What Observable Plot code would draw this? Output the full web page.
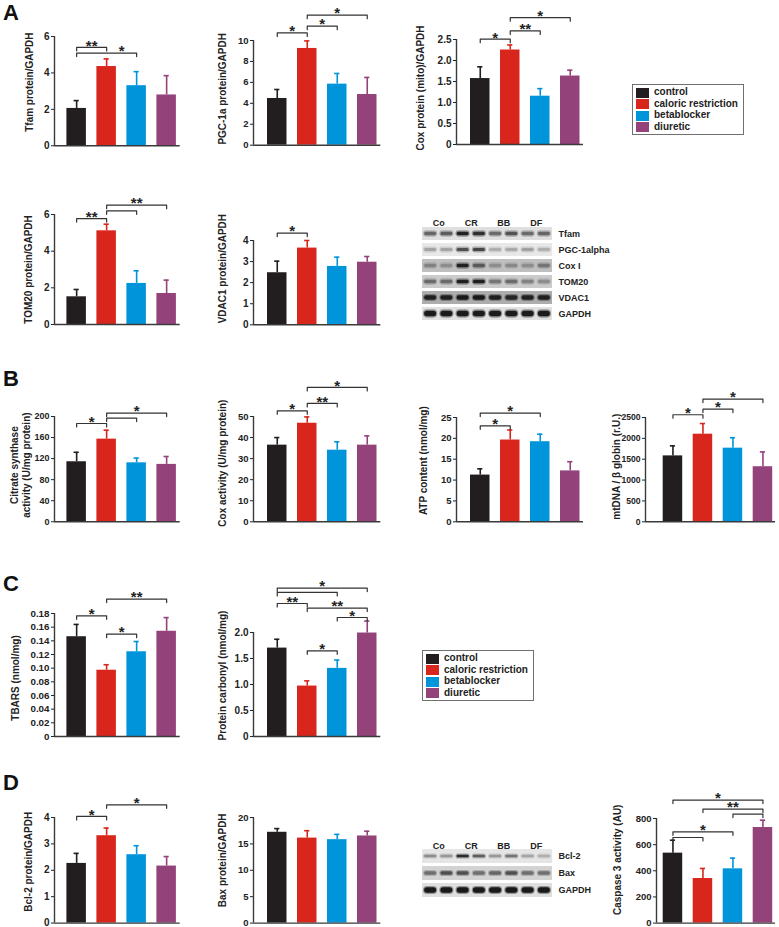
<!DOCTYPE html>
<html><head><meta charset="utf-8">
<script src="https://cdn.jsdelivr.net/npm/d3@7"></script>
<script src="https://cdn.jsdelivr.net/npm/@observablehq/plot@0.6"></script>
<style>
body{margin:0;background:#fff;}
#fig{position:relative;width:779px;height:927px;overflow:hidden;background:#fff;font-family:"Liberation Sans",Arial,Helvetica,sans-serif;}
.letter{position:absolute;font-weight:bold;font-size:22px;line-height:22px;color:#111;}
.legend{position:absolute;border:1px solid #707070;box-sizing:border-box;}
.legend .sw{position:absolute;left:3px;width:13px;height:10px;}
.legend .lt{position:absolute;left:21px;font-size:10px;font-weight:bold;line-height:10px;color:#222;white-space:nowrap;}
</style>
</head><body><div id="fig"></div>
<script>
// ---------------- data ----------------
const groups = ["control", "caloric restriction", "betablocker", "diuretic"];
const groupColors = ["#221e1f", "#d9261c", "#0095da", "#93427a"];

// each significance entry: [from group, to group, bracket level (data units), label, optional label position (group units)]
const tfamMean = [2.05, 4.35, 3.3, 2.79],   tfamSem = [0.43, 0.42, 0.77, 1.06];
const tfamSig = [[0, 1, 5.40, "**"], [0, 2, 5.09, "*", 1.5]];
const pgcMean = [4.46, 9.24, 5.83, 4.84],   pgcSem = [0.86, 0.72, 1.02, 1.63];
const pgcSig = [[0, 1, 10.72, "*"], [1, 2, 11.37, "*"], [1, 3, 12.42, "*"]];
const coxMitoMean = [1.57, 2.25, 1.15, 1.63], coxMitoSem = [0.28, 0.12, 0.18, 0.14];
const coxMitoSig = [[0, 1, 2.507, "*"], [1, 2, 2.705, "**"], [1, 3, 3.02, "*"]];
const tom20Mean = [1.51, 5.11, 2.24, 1.69], tom20Sem = [0.4, 0.36, 0.69, 0.73];
const tom20Sig = [[0, 1, 5.78, "**"], [1, 2, 6.20, ""], [1, 3, 6.51, "**"]];
const vdac1Mean = [2.47, 3.64, 2.77, 2.97], vdac1Sem = [0.55, 0.36, 0.44, 0.27];
const vdac1Sig = [[0, 1, 4.35, "*"]];
const csMean = [114, 157, 112, 109], csSem = [18, 17, 9, 15];
const csSig = [[0, 1, 186.7, "*"], [1, 2, 197, ""], [1, 3, 206.5, "*"]];
const coxActMean = [36.4, 46.8, 34, 36.4], coxActSem = [3.6, 3.0, 4.0, 4.4];
const coxActSig = [[0, 1, 52.7, "*"], [1, 2, 56.2, "**"], [1, 3, 63.8, "*"]];
const atpMean = [11.2, 19.6, 19.2, 12.2], atpSem = [1.5, 2.4, 1.8, 2.2];
const atpSig = [[0, 1, 23.0, "*"], [0, 2, 26.06, "*"]];
const mtdnaMean = [1580, 2100, 1765, 1320], mtdnaSem = [240, 255, 250, 355];
const mtdnaSig = [[0, 1, 2566, "*"], [1, 2, 2702, "*"], [1, 3, 2942, "*"]];
const tbarsMean = [0.146, 0.097, 0.124, 0.154], tbarsSem = [0.018, 0.008, 0.015, 0.020];
const tbarsSig = [[0, 1, 0.1766, "*"], [1, 2, 0.1498, "*"], [1, 3, 0.2011, "**"]];
const carbMean = [1.70, 0.97, 1.31, 1.99], carbSem = [0.17, 0.10, 0.16, 0.23];
const carbSig = [[0, 3, 2.854, "*"], [0, 2, 2.77, ""], [0, 1, 2.558, "**"], [1, 3, 2.469, "**"], [2, 3, 2.288, "*"], [1, 2, 1.648, "*"]];
const bcl2Mean = [2.26, 3.31, 2.59, 2.16], bcl2Sem = [0.38, 0.29, 0.34, 0.36];
const bcl2Sig = [[0, 1, 4.04, "*"], [1, 3, 4.48, "*"]];
const baxMean = [17.2, 16.1, 15.8, 16.5], baxSem = [0.7, 1.4, 1.0, 0.9];
const baxSig = [];
const casp3Mean = [535, 341, 415, 731], casp3Sem = [99, 77, 82, 56];
const casp3Sig = [[0, 3, 940.7, "*"], [1, 3, 871.9, "**"], [2, 3, 833.7, ""], [0, 2, 698.3, "*"], [0, 1, 654.7, ""]];

// tick values
const tfamTicks = [0, 2, 4, 6];
const pgcTicks = [0, 2, 4, 6, 8, 10];
const coxMitoTicks = [0, 0.5, 1, 1.5, 2, 2.5];
const tom20Ticks = [0, 2, 4, 6];
const vdac1Ticks = [0, 1, 2, 3, 4];
const csTicks = [0, 40, 80, 120, 160, 200];
const coxActTicks = [0, 10, 20, 30, 40, 50];
const atpTicks = [0, 5, 10, 15, 20, 25];
const mtdnaTicks = [0, 500, 1000, 1500, 2000, 2500];
const tbarsTicks = [0, 0.02, 0.04, 0.06, 0.08, 0.10, 0.12, 0.14, 0.16, 0.18];
const carbTicks = [0, 0.5, 1, 1.5, 2];
const bcl2Ticks = [0, 1, 2, 3, 4];
const baxTicks = [0, 5, 10, 15, 20];
const casp3Ticks = [0, 200, 400, 600, 800];

// western blots
const laneGroups = ["Co", "CR", "BB", "DF"];
const blotARows = ["Tfam", "PGC-1alpha", "Cox I", "TOM20", "VDAC1", "GAPDH"];
const blotABackground = [0.09, 0.05, 0.23, 0.175, 0.31, 0.08];
const blotABands = [
  [0.62, 0.66, 0.92, 0.86, 0.6, 0.7, 0.6, 0.62],
  [0.35, 0.35, 0.72, 0.76, 0.3, 0.32, 0.36, 0.3],
  [0.5, 0.45, 0.93, 0.68, 0.45, 0.47, 0.45, 0.56],
  [0.6, 0.6, 0.93, 0.93, 0.55, 0.6, 0.5, 0.45],
  [0.93, 0.93, 0.96, 0.96, 0.93, 0.9, 0.93, 0.93],
  [0.95, 0.95, 0.95, 0.95, 0.95, 0.95, 0.95, 0.95]
];
const blotDRows = ["Bcl-2", "Bax", "GAPDH"];
const blotDBackground = [0.06, 0.14, 0.09];
const blotDBands = [
  [0.45, 0.4, 0.88, 0.66, 0.4, 0.56, 0.35, 0.3],
  [0.58, 0.72, 0.72, 0.58, 0.62, 0.72, 0.58, 0.58],
  [0.96, 0.96, 0.96, 0.96, 0.96, 0.96, 0.96, 0.96]
];

// ---------------- drawing ----------------
const FONT = '"Liberation Sans", Arial, Helvetica, sans-serif';
const NARROW = '"Liberation Sans Narrow", "Arial Narrow", "Liberation Sans", Arial, sans-serif';
const fig = document.getElementById("fig");
function place(el, left, top) {
  el.style.position = "absolute";
  el.style.left = left + "px";
  el.style.top = top + "px";
  el.style.maxWidth = "none";
  fig.appendChild(el);
}
function fmtTick(f) { const F = d3.format(f); return d => d === 0 ? "0" : F(d); }

function barChart(c) {
  const STEP = 30, BW = 19.5, ML = 60, MT = 62, MR = 4, MB = 6;
  const c0 = c.bandStart + BW / 2;
  const plotW = c.axisEnd - c.axisX, plotH = c.yBottom - c.yTop;
  const ppu = plotH / c.ymax;
  const tk = 3.5 / ppu;
  const rows = groups.map((g, i) => ({i, g, mean: c.mean[i], hi: c.mean[i] + c.sem[i], color: groupColors[i]}));
  const hw = BW / 2 / STEP, cw = 2.6 / STEP;
  const xLeft = (c.axisX - c0) / STEP;
  const brPts = c.sig.flatMap((b, k) => [[b[0], b[2] - tk], [b[0], b[2]], [b[1], b[2]], [b[1], b[2] - tk]].map(([x, y]) => ({k, x, y})));
  const brLab = c.sig.filter(b => b[3]).map(b => ({x: b[4] ?? (b[0] + b[1]) / 2, y: b[2], t: b[3]}));
  const svg = Plot.plot({
    width: ML + plotW + MR, height: MT + plotH + MB,
    marginLeft: ML, marginRight: MR, marginTop: MT, marginBottom: MB,
    x: {domain: [xLeft, (c.axisEnd - c0) / STEP], axis: null},
    y: {domain: [0, c.ymax], axis: null},
    color: {type: "identity"},
    style: {background: "transparent", color: "#222", fontFamily: FONT, overflow: "visible"},
    marks: [
      Plot.rect(rows, {x1: d => d.i - hw, x2: d => d.i + hw, y1: () => 0, y2: "mean", fill: "color"}),
      Plot.ruleX(rows, {x: "i", y1: "mean", y2: "hi", stroke: "color", strokeWidth: 1.6}),
      Plot.ruleY(rows, {y: "hi", x1: d => d.i - cw, x2: d => d.i + cw, stroke: "color", strokeWidth: 1.6}),
      Plot.ruleY([0], {stroke: "#3a3a3a", strokeWidth: 1.4}),
      Plot.ruleX([xLeft], {y1: 0, y2: c.ymax, stroke: "#3a3a3a", strokeWidth: 1.4}),
      Plot.axisY(c.ticks, {tickSize: 3, tickPadding: 2, tickFormat: fmtTick(c.fmt), fontSize: c.tfs || 10, fontWeight: "bold", label: null}),
      Plot.line(brPts, {x: "x", y: "y", z: "k", stroke: "#333", strokeWidth: 1.2}),
      Plot.text(brLab, {x: "x", y: "y", text: "t", fontSize: 15, fontWeight: "bold", dy: -1.5}),
      Plot.text([c.label], {frameAnchor: "left", textAnchor: "middle", text: d => d, rotate: -90, dx: -c.ldx, dy: c.ldy, fontSize: 10, fontWeight: "bold", lineHeight: 1.15})
    ]
  });
  place(svg, c.axisX - ML, c.yTop - MT);
}

function blot(b) {
  const x0 = b.stripLeft - b.left, x1 = b.stripRight - b.left;
  const y0 = b.rowsTop - b.top, y1 = b.rowsBottom - b.top;
  const n = b.rows.length, pad = 0.2;
  const bwRow = (y1 - y0) / (n - pad) * (1 - pad);
  const gray = d3.interpolateRgb("#f3f3f3", "#101010");
  const marks = [
    Plot.barX(b.rows.map((r, i) => ({r, v: b.bg[i]})), {x1: () => 0, x2: () => 8, y: "r", fill: d => gray(d.v)})
  ];
  b.rows.forEach((r, ri) => {
    const th = b.thick[ri], inset = (bwRow - th) / 2;
    const lanes = b.bands[ri].map((v, lane) => ({lane, v}));
    marks.push(Plot.barX(lanes, {x1: d => d.lane + 0.06, x2: d => d.lane + 0.94, y: () => r, fill: d => gray(d.v * 0.85), fillOpacity: 0.45, insetTop: inset - 1.3, insetBottom: inset - 1.3, rx: th / 2 + 1.3}));
    marks.push(Plot.barX(lanes, {x1: d => d.lane + 0.13, x2: d => d.lane + 0.87, y: () => r, fill: d => gray(d.v), insetTop: inset, insetBottom: inset, rx: th / 2}));
  });
  marks.push(Plot.text(b.rows, {x: () => 8, y: d => d, text: d => d, textAnchor: "start", dx: 6, fontSize: 9, fontWeight: "bold", fontFamily: NARROW, fill: "#222"}));
  marks.push(Plot.text(laneGroups, {x: (d, i) => 2 * i + 1, frameAnchor: "top", text: d => d, fontSize: 9, fontWeight: "bold", fontFamily: NARROW, fill: "#222"}));
  const svg = Plot.plot({
    width: b.width, height: b.height,
    marginLeft: x0, marginRight: b.width - x1, marginTop: b.headerY - b.top, marginBottom: b.height - y1,
    x: {domain: [0, 8], range: [x0, x1], axis: null},
    y: {domain: b.rows, range: [y0, y1], paddingInner: pad, paddingOuter: 0, axis: null},
    color: {type: "identity"},
    style: {background: "transparent", fontFamily: FONT, overflow: "visible"},
    marks
  });
  place(svg, b.left, b.top);
}

function legend(left, top) {
  const box = document.createElement("div");
  box.className = "legend";
  box.style.left = left + "px"; box.style.top = top + "px";
  box.style.width = "112px"; box.style.height = "51px";
  groups.forEach((g, i) => {
    const cy = 7.5 + i * 11.5;
    const sw = document.createElement("div");
    sw.className = "sw"; sw.style.top = (cy - 5) + "px"; sw.style.background = groupColors[i];
    const t = document.createElement("div");
    t.className = "lt"; t.style.top = (cy - 5.5) + "px"; t.textContent = g;
    box.appendChild(sw); box.appendChild(t);
  });
  fig.appendChild(box);
}

function letter(ch, left, top) {
  const d = document.createElement("div");
  d.className = "letter"; d.textContent = ch;
  d.style.left = left + "px"; d.style.top = top + "px";
  fig.appendChild(d);
}

const C1 = {axisX: 54.3, bandStart: 66.7, axisEnd: 180};
const C2 = {axisX: 252.7, bandStart: 266.7, axisEnd: 380};
const C3 = {axisX: 456, bandStart: 470, axisEnd: 583};
const C4 = {axisX: 645, bandStart: 662.7, axisEnd: 775};

// Panel A
barChart({...C1, yTop: 35.7, yBottom: 145, ymax: 6, ticks: tfamTicks, fmt: "d", mean: tfamMean, sem: tfamSem, sig: tfamSig, label: "Tfam protein/GAPDH", ldx: 25, ldy: -9});
barChart({...C2, yTop: 40.3, yBottom: 145, ymax: 10, ticks: pgcTicks, fmt: "d", tfs: 9.5, mean: pgcMean, sem: pgcSem, sig: pgcSig, label: "PGC-1a protein/GAPDH", ldx: 31, ldy: -4});
barChart({...C3, yTop: 39.3, yBottom: 144.3, ymax: 2.5, ticks: coxMitoTicks, fmt: ".1f", mean: coxMitoMean, sem: coxMitoSem, sig: coxMitoSig, label: "Cox protein (mito)/GAPDH", ldx: 36, ldy: -4});
barChart({...C1, yTop: 214.3, yBottom: 324.3, ymax: 6, ticks: tom20Ticks, fmt: "d", mean: tom20Mean, sem: tom20Sem, sig: tom20Sig, label: "TOM20 protein/GAPDH", ldx: 26, ldy: 0});
barChart({...C2, yTop: 240, yBottom: 324.3, ymax: 4, ticks: vdac1Ticks, fmt: "d", mean: vdac1Mean, sem: vdac1Sem, sig: vdac1Sig, label: "VDAC1 protein/GAPDH", ldx: 31, ldy: -14});
legend(632, 84);
blot({left: 415, top: 205, width: 170, height: 120, stripLeft: 422, stripRight: 552, rowsTop: 227, rowsBottom: 320, headerY: 219,
  rows: blotARows, bg: blotABackground, bands: blotABands, thick: [3.5, 3, 3.5, 3.5, 4.2, 5.5]});

// Panel B
barChart({...C1, yTop: 415.7, yBottom: 521, ymax: 200, ticks: csTicks, fmt: "d", tfs: 9, mean: csMean, sem: csSem, sig: csSig, label: "Citrate synthase\nactivity (U/mg protein)", ldx: 34, ldy: -4});
barChart({...C2, yTop: 415.7, yBottom: 521, ymax: 50, ticks: coxActTicks, fmt: "d", tfs: 9.5, mean: coxActMean, sem: coxActSem, sig: coxActSig, label: "Cox activity (U/mg protein)", ldx: 31, ldy: -6});
barChart({...C3, yTop: 416.7, yBottom: 521, ymax: 25, ticks: atpTicks, fmt: "d", tfs: 9.5, mean: atpMean, sem: atpSem, sig: atpSig, label: "ATP content (nmol/mg)", ldx: 33, ldy: -9});
barChart({...C4, yTop: 416.7, yBottom: 521, ymax: 2500, ticks: mtdnaTicks, fmt: "d", tfs: 8.6, mean: mtdnaMean, sem: mtdnaSem, sig: mtdnaSig, label: "mtDNA / \u03b2 globin (r.U.)", ldx: 29, ldy: -3});

// Panel C
barChart({...C1, yTop: 612.7, yBottom: 735.7, ymax: 0.18, ticks: tbarsTicks, fmt: ".2f", tfs: 9.8, mean: tbarsMean, sem: tbarsSem, sig: tbarsSig, label: "TBARS (nmol/mg)", ldx: 39, ldy: 3});
barChart({...C2, yTop: 631.7, yBottom: 735.7, ymax: 2.0, ticks: carbTicks, fmt: ".1f", mean: carbMean, sem: carbSem, sig: carbSig, label: "Protein carbonyl (nmol/mg)", ldx: 31, ldy: -9});
legend(422, 650);

// Panel D
barChart({...C1, yTop: 816.7, yBottom: 922.3, ymax: 4, ticks: bcl2Ticks, fmt: "d", mean: bcl2Mean, sem: bcl2Sem, sig: bcl2Sig, label: "Bcl-2 protein/GAPDH", ldx: 26, ldy: -8.5});
barChart({...C2, yTop: 816.7, yBottom: 922.3, ymax: 20, ticks: baxTicks, fmt: "d", tfs: 9.5, mean: baxMean, sem: baxSem, sig: baxSig, label: "Bax protein/GAPDH", ldx: 31, ldy: -10});
blot({left: 415, top: 835, width: 170, height: 65, stripLeft: 422, stripRight: 552, rowsTop: 848, rowsBottom: 897, headerY: 842,
  rows: blotDRows, bg: blotDBackground, bands: blotDBands, thick: [2.6, 3.6, 5.5]});
barChart({...C4, axisX: 656, yTop: 817.7, yBottom: 922.3, ymax: 800, ticks: casp3Ticks, fmt: "d", tfs: 9.5, mean: casp3Mean, sem: casp3Sem, sig: casp3Sig, label: "Caspase 3 activity (AU)", ldx: 39, ldy: -11});

letter("A", 3, 2);
letter("B", 3, 368);
letter("C", 3, 573);
letter("D", 3, 772);
</script>
</body></html>
